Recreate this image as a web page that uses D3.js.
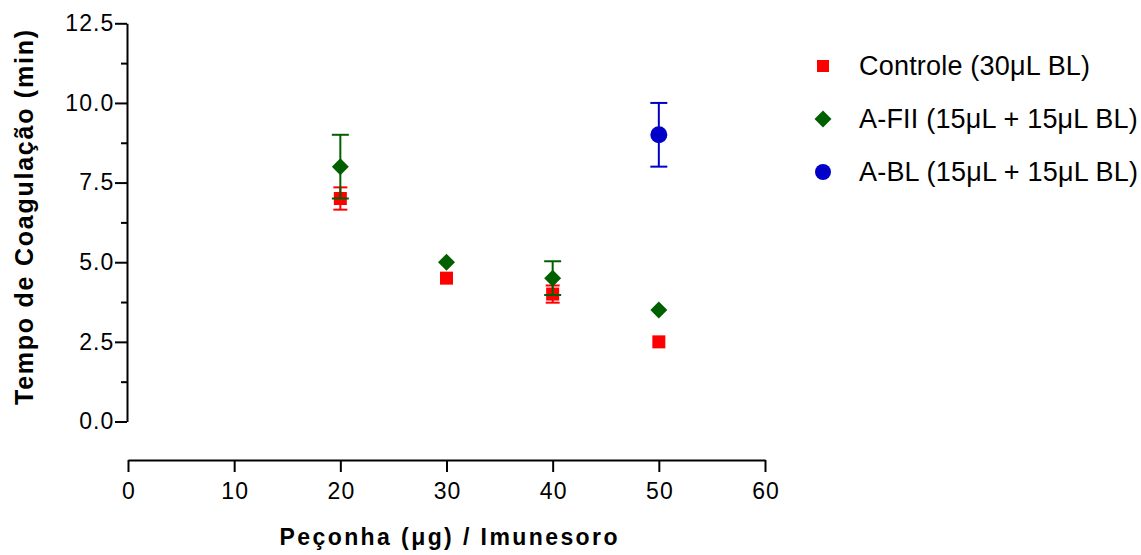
<!DOCTYPE html>
<html>
<head>
<meta charset="utf-8">
<script src="https://cdn.jsdelivr.net/npm/d3@7"></script>
<style>
  body { margin: 0; background: #fff; }
  svg { font-family: "Liberation Sans", Arial, sans-serif; }
</style>
</head>
<body>
<svg id="chart" width="1141" height="555"></svg>
<script>
// Data
var doses = [20, 30, 40, 50];
var controleMean = [7.0, 4.5, 4.0, 2.5];
var controleErr  = [0.35, 0, 0.27, 0];
var afiiMean = [8.0, 5.0, 4.5, 3.5];
var afiiErr  = [1.0, 0, 0.53, 0];
var ablDoses = [50];
var ablMean = [9.0];
var ablErr  = [1.0];

var yMajor = [0, 2.5, 5, 7.5, 10, 12.5];
var yMinor = [1.25, 3.75, 6.25, 8.75, 11.25];
var xTicks = [0, 10, 20, 30, 40, 50, 60];

var seriesNames = ["Controle (30\u03bcL BL)", "A-FII (15\u03bcL + 15\u03bcL BL)", "A-BL (15\u03bcL + 15\u03bcL BL)"];
var seriesColors = ["#ff0000", "#006000", "#0000c8"];
var seriesShapes = [d3.symbolSquare, d3.symbolSquare, d3.symbolCircle];
var seriesRotate = [0, 45, 0];
var seriesSizes = [169, 144, 227];
var legendSizes = [144, 144, 201];
var capWidths = [14, 17, 17];

var svg = d3.select("#chart");

var x = d3.scaleLinear().domain([0, 60]).range([128, 765]);
var y = d3.scaleLinear().domain([0, 12.5]).range([421.5, 23.3]);

// Y axis: minor ticks
svg.append("g")
    .attr("transform", "translate(127,0)")
    .call(d3.axisLeft(y).tickValues(yMinor).tickSize(6).tickFormat(""))
    .call(function(g) { g.select(".domain").remove(); })
    .selectAll("line").attr("stroke-width", 2);

// Y axis: major ticks + labels
var yAxis = svg.append("g")
    .attr("transform", "translate(127,0)")
    .call(d3.axisLeft(y).tickValues(yMajor).tickSize(12).tickSizeOuter(0).tickFormat(d3.format(".1f")));
yAxis.select(".domain").attr("stroke-width", 2);
yAxis.selectAll("line").attr("stroke-width", 2);
yAxis.selectAll("text")
    .attr("font-size", 23)
    .attr("letter-spacing", 1.1)
    .attr("x", -12.5)
    .attr("fill", "#000")
    .attr("font-family", "Liberation Sans, Arial, sans-serif");

// X axis
var xAxis = svg.append("g")
    .attr("transform", "translate(0,460)")
    .call(d3.axisBottom(x).tickValues(xTicks).tickSize(12).tickSizeOuter(0));
xAxis.select(".domain").attr("stroke-width", 2);
xAxis.selectAll("line").attr("stroke-width", 2);
xAxis.selectAll("text")
    .attr("font-size", 23)
    .attr("letter-spacing", 1.1)
    .attr("y", 38.5)
    .attr("dy", 0)
    .attr("dx", 0.55)
    .attr("fill", "#000")
    .attr("font-family", "Liberation Sans, Arial, sans-serif");

// Axis titles
svg.append("text")
    .attr("transform", "translate(33,217.5) rotate(-90)")
    .style("text-anchor", "middle")
    .attr("font-size", 25)
    .attr("font-weight", "bold")
    .attr("textLength", 375)
    .attr("lengthAdjust", "spacing")
    .text("Tempo  de Coagula\u00e7\u00e3o (min)");

svg.append("text")
    .attr("x", 448.5)
    .attr("y", 545)
    .style("text-anchor", "middle")
    .attr("font-size", 23)
    .attr("font-weight", "bold")
    .attr("textLength", 338)
    .attr("lengthAdjust", "spacing")
    .text("Pe\u00e7onha (\u03bcg) / Imunesoro");

// Series: error bars then markers
var series = [
    { xs: doses, ys: controleMean, es: controleErr },
    { xs: doses, ys: afiiMean, es: afiiErr },
    { xs: ablDoses, ys: ablMean, es: ablErr }
];

series.forEach(function(s, k) {
    var pts = s.xs.map(function(d, i) { return { x: d, y: s.ys[i], e: s.es[i] }; });
    var g = svg.append("g");
    var withErr = pts.filter(function(d) { return d.e > 0; });
    g.selectAll(".bar").data(withErr).enter().append("line")
        .attr("x1", function(d) { return x(d.x); })
        .attr("x2", function(d) { return x(d.x); })
        .attr("y1", function(d) { return y(d.y + d.e); })
        .attr("y2", function(d) { return y(d.y - d.e); })
        .attr("stroke", seriesColors[k]).attr("stroke-width", 2);
    [1, -1].forEach(function(sign) {
        g.selectAll(".cap" + sign).data(withErr).enter().append("line")
            .attr("x1", function(d) { return x(d.x) - capWidths[k] / 2; })
            .attr("x2", function(d) { return x(d.x) + capWidths[k] / 2; })
            .attr("y1", function(d) { return y(d.y + sign * d.e); })
            .attr("y2", function(d) { return y(d.y + sign * d.e); })
            .attr("stroke", seriesColors[k]).attr("stroke-width", 2);
    });
    g.selectAll("path").data(pts).enter().append("path")
        .attr("d", d3.symbol().type(seriesShapes[k]).size(seriesSizes[k]))
        .attr("transform", function(d) {
            return "translate(" + x(d.x) + "," + y(d.y) + ") rotate(" + seriesRotate[k] + ")";
        })
        .attr("fill", seriesColors[k]);
});

// Legend
var legend = svg.append("g");
seriesNames.forEach(function(name, k) {
    var ly = 66 + k * 53;
    legend.append("path")
        .attr("d", d3.symbol().type(seriesShapes[k]).size(legendSizes[k]))
        .attr("transform", "translate(823," + ly + ") rotate(" + seriesRotate[k] + ")")
        .attr("fill", seriesColors[k]);
    legend.append("text")
        .attr("x", 859)
        .attr("y", ly + 9)
        .attr("font-size", 27)
        .attr("letter-spacing", 0.2)
        .text(name);
});
</script>
</body>
</html>
